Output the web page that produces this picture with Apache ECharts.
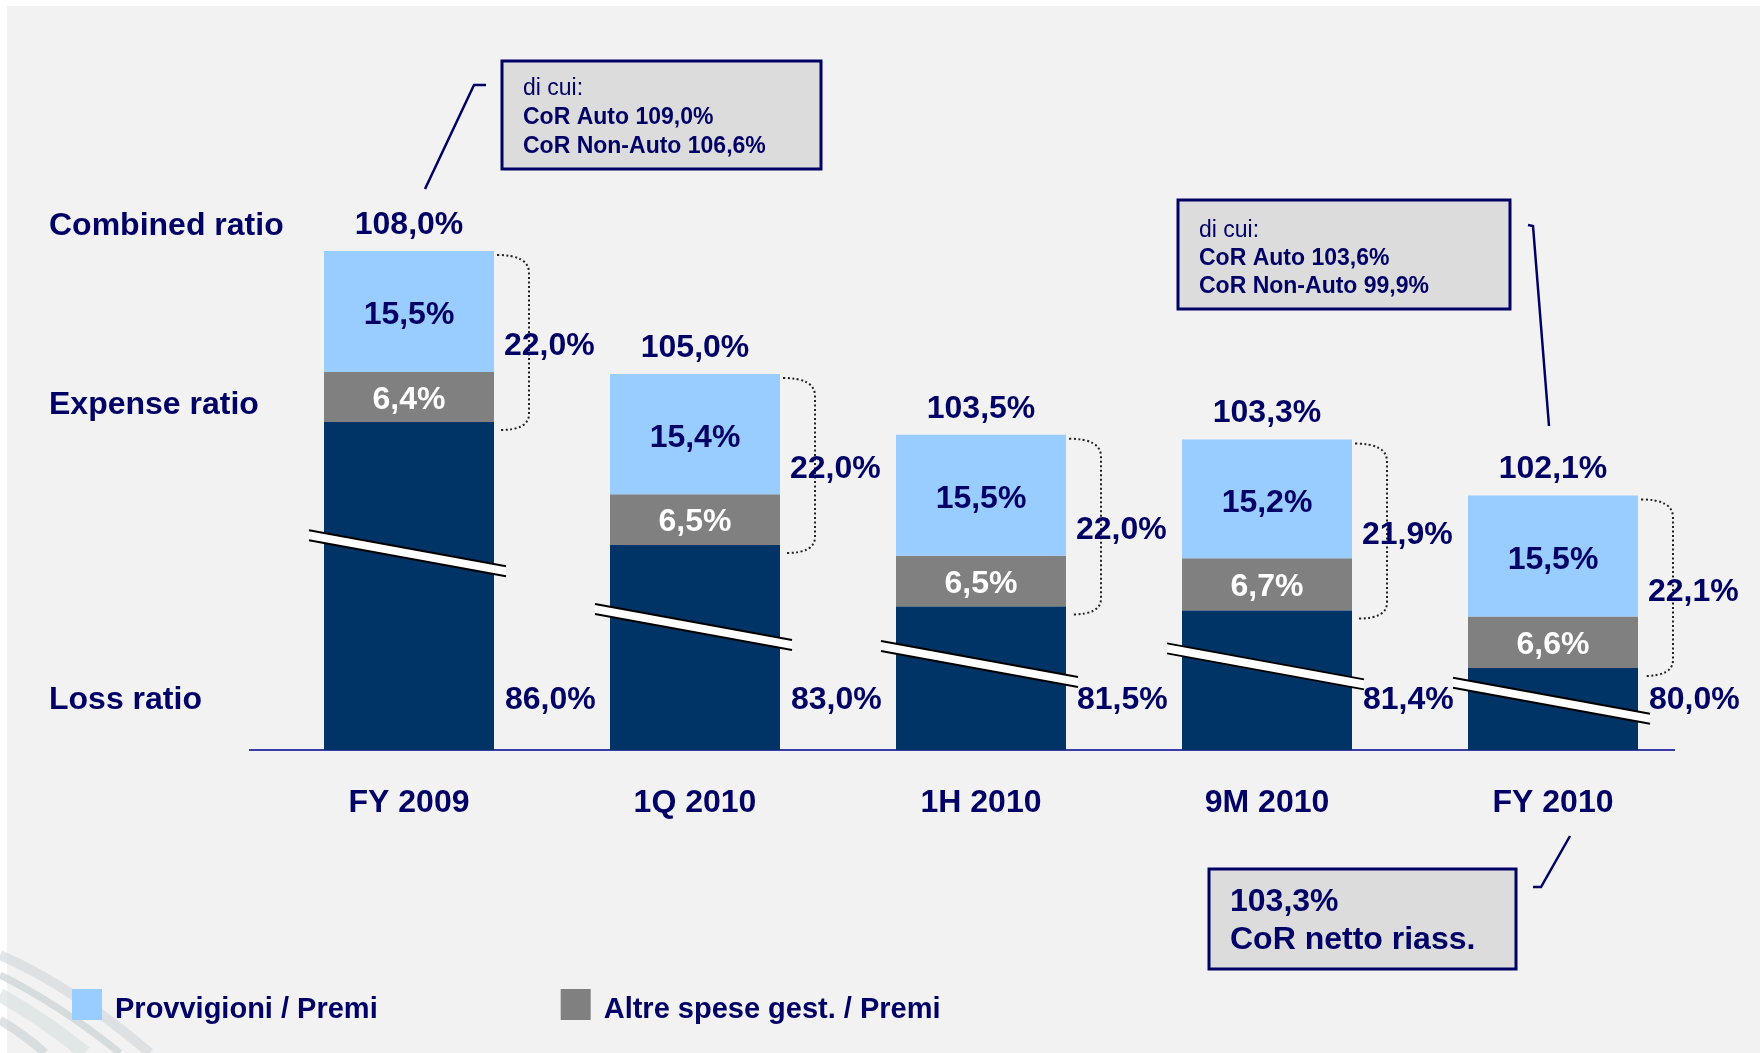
<!DOCTYPE html>
<html>
<head>
<meta charset="utf-8">
<title>Combined ratio</title>
<script src="https://cdn.jsdelivr.net/npm/echarts@6/dist/echarts.min.js"></script>
<style>
  html, body { margin: 0; padding: 0; background: #fff; }
  #main { width: 1760px; height: 1053px; }
</style>
</head>
<body>
<div id="main"></div>
<script>
const categories = ['FY 2009', '1Q 2010', '1H 2010', '9M 2010', 'FY 2010'];
const lossRatio = [86.0, 83.0, 81.5, 81.4, 80.0];
const altreSpese = [6.4, 6.5, 6.5, 6.7, 6.6];
const provvigioni = [15.5, 15.4, 15.5, 15.2, 15.5];
const expenseRatio = [22.0, 22.0, 22.0, 21.9, 22.1];
const combinedRatio = [108.0, 105.0, 103.5, 103.3, 102.1];

const NAVY = '#000066';
const FONT = '"Liberation Sans", Arial, sans-serif';
const BAR_WIDTH = 170;

function pct(v) {
    return v.toFixed(1).replace('.', ',') + '%';
}

function txt(text, x, y, size, opts) {
    return {
        type: 'text',
        style: Object.assign({
            text: text, x: x, y: y,
            fontSize: size, fontWeight: 'bold', fontFamily: FONT,
            fill: NAVY, align: 'center', verticalAlign: 'middle'
        }, opts || {})
    };
}

const chart = echarts.init(document.getElementById('main'));

// le quote di spesa hanno la loro scala (yAxis 1), l'asse dei sinistri e' spezzato (yAxis 0)
function expenseHeight(v) {
    return chart.convertToPixel({ yAxisIndex: 1 }, 0) - chart.convertToPixel({ yAxisIndex: 1 }, v);
}

function callout(x, y, w, h, lines, size, firstY, lineH) {
    const items = [{
        type: 'rect',
        shape: { x: x, y: y, width: w, height: h },
        style: { fill: '#dcdcdc', stroke: NAVY, lineWidth: 3 }
    }];
    lines.forEach(function (l, k) {
        items.push({
            type: 'text',
            style: {
                text: l.text, x: x + 21, y: y + firstY + k * lineH,
                fontSize: size, fontWeight: l.bold ? 'bold' : 'normal', fontFamily: FONT,
                fill: NAVY, verticalAlign: 'middle'
            }
        });
    });
    return items;
}

function leader(points) {
    return {
        type: 'polyline',
        shape: { points: points },
        style: { stroke: NAVY, lineWidth: 2.5, fill: null }
    };
}

function swoosh(x1, y1, cx, cy, x2, y2, color, width) {
    return {
        type: 'bezierCurve',
        shape: { x1: x1, y1: y1, cpx1: cx, cpy1: cy, x2: x2, y2: y2 },
        style: { stroke: color, lineWidth: width, fill: null, opacity: 0.6 },
        z: -9
    };
}

let graphics = [
    { type: 'rect', shape: { x: 7, y: 6, width: 1753, height: 1047 }, style: { fill: '#f2f2f2' }, z: -10 },
    swoosh(0, 955, 70, 985, 150, 1053, '#cfd6da', 10),
    swoosh(0, 975, 60, 1005, 120, 1053, '#c3ccd1', 7),
    swoosh(0, 995, 45, 1020, 85, 1053, '#d6dde0', 14),
    swoosh(0, 1020, 25, 1035, 45, 1053, '#c6ced2', 9),
    // linea di base
    { type: 'line', shape: { x1: 249, y1: 750, x2: 1675, y2: 750 }, style: { stroke: '#3c3ca8', lineWidth: 2 }, z: 1 },
    txt('Combined ratio', 49, 226, 32, { align: 'left' }),
    txt('Expense ratio', 49, 405, 32, { align: 'left' }),
    txt('Loss ratio', 49, 700, 32, { align: 'left' }),
    leader([[425, 189], [474, 85], [486, 85]]),
    leader([[1528, 225], [1533, 226], [1549, 426]]),
    leader([[1570, 836], [1541, 887], [1533, 887]])
];
graphics = graphics
    .concat(callout(502, 61, 319, 108, [
        { text: 'di cui:' }, { text: 'CoR Auto 109,0%', bold: true }, { text: 'CoR Non-Auto 106,6%', bold: true }
    ], 23, 28, 29))
    .concat(callout(1178, 200, 332, 109, [
        { text: 'di cui:' }, { text: 'CoR Auto 103,6%', bold: true }, { text: 'CoR Non-Auto 99,9%', bold: true }
    ], 23, 31, 28))
    .concat(callout(1209, 869, 307, 100, [
        { text: '103,3%', bold: true }, { text: 'CoR netto riass.', bold: true }
    ], 32, 33, 38));

chart.setOption({
    backgroundColor: '#ffffff',
    animation: false,
    grid: { left: 266, right: 64, top: 94, bottom: 303 },
    legend: {
        data: ['Provvigioni / Premi', 'Altre spese gest. / Premi'],
        left: 72,
        top: 989,
        padding: 0,
        icon: 'rect',
        itemWidth: 30,
        itemHeight: 31,
        itemGap: 183,
        formatter: '{t|{name}}',
        textStyle: {
            fontSize: 29, fontWeight: 'bold', fontFamily: FONT, color: NAVY,
            rich: {
                t: { fontSize: 29, fontWeight: 'bold', fontFamily: FONT, color: NAVY, padding: [11, 0, 0, 8] }
            }
        }
    },
    xAxis: {
        type: 'category',
        data: categories,
        axisTick: { show: false },
        axisLine: { show: false },
        axisLabel: { margin: 37, fontSize: 32, fontWeight: 'bold', fontFamily: FONT, color: NAVY }
    },
    yAxis: [
        // asse dei sinistri, spezzato sotto il 78%
        { type: 'value', min: 78, max: 94, show: false },
        // asse delle quote di spesa
        { type: 'value', min: 0, max: 84, show: false }
    ],
    graphic: graphics,
    series: [
        {
            name: 'Loss ratio',
            type: 'bar',
            yAxisIndex: 0,
            barWidth: BAR_WIDTH,
            itemStyle: { color: '#003366' },
            label: {
                show: true,
                position: 'insideBottomRight',
                distance: 0,
                align: 'left',
                verticalAlign: 'middle',
                offset: [11, -50],
                fontSize: 32, fontWeight: 'bold', fontFamily: FONT, color: NAVY,
                formatter: function (p) { return pct(p.value); }
            },
            data: lossRatio
        },
        {
            name: 'Altre spese gest. / Premi',
            type: 'custom',
            yAxisIndex: 0,
            itemStyle: { color: '#808080' },
            encode: { x: 0, y: 1 },
            data: lossRatio.map(function (v, i) { return [i, v, altreSpese[i]]; }),
            renderItem: function (params, api) {
                const p = api.coord([api.value(0), api.value(1)]);
                const h = expenseHeight(api.value(2));
                return {
                    type: 'group',
                    children: [
                        {
                            type: 'rect',
                            shape: { x: p[0] - BAR_WIDTH / 2, y: p[1] - h, width: BAR_WIDTH, height: h },
                            style: { fill: api.visual('color') }
                        },
                        txt(pct(api.value(2)), p[0], p[1] - h / 2 + 3, 32, { fill: '#ffffff' })
                    ]
                };
            }
        },
        {
            name: 'Provvigioni / Premi',
            type: 'custom',
            yAxisIndex: 0,
            itemStyle: { color: '#99ccff' },
            encode: { x: 0, y: 1 },
            data: lossRatio.map(function (v, i) {
                return [i, v, altreSpese[i], provvigioni[i], combinedRatio[i], expenseRatio[i]];
            }),
            renderItem: function (params, api) {
                const p = api.coord([api.value(0), api.value(1)]);
                const bot = p[1];
                const base = bot - expenseHeight(api.value(2));
                const h = expenseHeight(api.value(3));
                const top = base - h;
                const cx = p[0];
                const xr = cx + BAR_WIDTH / 2;
                const brace = 'M' + (xr + 3) + ',' + (top + 4) +
                    ' Q' + (xr + 35) + ',' + (top + 4) + ' ' + (xr + 35) + ',' + (top + 22) +
                    ' L' + (xr + 35) + ',' + (bot - 8) +
                    ' Q' + (xr + 35) + ',' + (bot + 8) + ' ' + (xr + 6) + ',' + (bot + 8);
                return {
                    type: 'group',
                    children: [
                        {
                            type: 'rect',
                            shape: { x: cx - BAR_WIDTH / 2, y: top, width: BAR_WIDTH, height: h },
                            style: { fill: api.visual('color') }
                        },
                        txt(pct(api.value(3)), cx, top + h / 2 + 4, 32),
                        txt(pct(api.value(4)), cx, top - 26, 32),
                        {
                            type: 'path',
                            shape: { pathData: brace },
                            style: { fill: null, stroke: '#222222', lineWidth: 2, lineDash: [2, 2.5] }
                        },
                        txt(pct(api.value(5)), xr + 10, (top + bot) / 2 + 10, 32, { align: 'left' })
                    ]
                };
            }
        },
        {
            name: 'break',
            type: 'custom',
            yAxisIndex: 0,
            z: 5,
            encode: { x: 0, y: 1 },
            data: lossRatio.map(function (v, i) { return [i, v]; }),
            renderItem: function (params, api) {
                const p = api.coord([api.value(0), api.value(1)]);
                const bottom = params.coordSys.y + params.coordSys.height;
                const mid = bottom - 0.6 * (bottom - p[1]);
                const x1 = p[0] - BAR_WIDTH / 2 - 15;
                const x2 = p[0] + BAR_WIDTH / 2 + 12;
                const y1 = mid - 18;
                const y2 = mid + 18;
                return {
                    type: 'group',
                    children: [
                        {
                            type: 'polygon',
                            shape: { points: [[x1, y1 - 5], [x2, y2 - 5], [x2, y2 + 5], [x1, y1 + 5]] },
                            style: { fill: '#ffffff' }
                        },
                        { type: 'line', shape: { x1: x1, y1: y1 - 5, x2: x2, y2: y2 - 5 }, style: { stroke: '#000', lineWidth: 2 } },
                        { type: 'line', shape: { x1: x1, y1: y1 + 5, x2: x2, y2: y2 + 5 }, style: { stroke: '#000', lineWidth: 2 } }
                    ]
                };
            }
        }
    ]
});
</script>
</body>
</html>
